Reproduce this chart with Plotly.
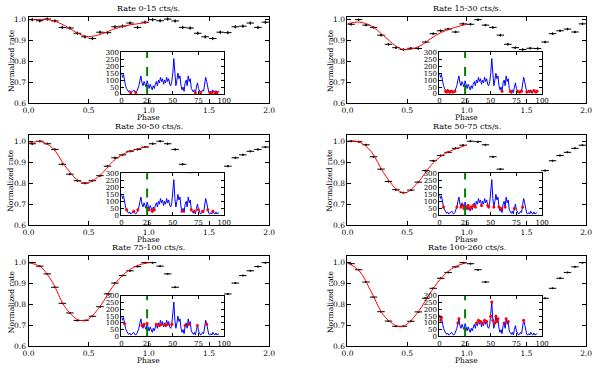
import plotly.graph_objects as go

# ---------------- data ----------------
phase_centers = [0.03125, 0.09375, 0.15625, 0.21875, 0.28125, 0.34375, 0.40625, 0.46875,
                 0.53125, 0.59375, 0.65625, 0.71875, 0.78125, 0.84375, 0.90625, 0.96875]
phase_all = phase_centers + [p + 1 for p in phase_centers]
half_bin = 0.03125

rate_labels = ["Rate 0-15 cts/s.", "Rate 15-30 cts/s.", "Rate 30-50 cts/s.",
               "Rate 50-75 cts/s.", "Rate 75-100 cts/s.", "Rate 100-260 cts/s."]
rate_ranges = [(0, 15), (15, 30), (30, 50), (50, 75), (75, 100), (100, 260)]

norm_0_15 = [1.000, 0.995, 1.003, 0.994, 0.963, 0.960, 0.935, 0.918,
             0.910, 0.940, 0.938, 0.966, 0.969, 0.984, 0.963, 0.988]
norm_15_30 = [0.978, 1.000, 0.974, 0.963, 0.926, 0.882, 0.866, 0.857,
              0.863, 0.862, 0.893, 0.933, 0.947, 0.955, 0.941, 0.980]
norm_30_50 = [0.988, 1.000, 0.988, 0.961, 0.890, 0.843, 0.812, 0.800,
              0.812, 0.836, 0.881, 0.921, 0.935, 0.952, 0.961, 0.972]
norm_50_75 = [1.000, 0.998, 0.983, 0.926, 0.867, 0.808, 0.769, 0.755,
              0.767, 0.805, 0.860, 0.907, 0.932, 0.947, 0.966, 0.981]
norm_75_100 = [1.000, 0.983, 0.946, 0.882, 0.805, 0.759, 0.723, 0.723,
               0.743, 0.789, 0.850, 0.902, 0.938, 0.961, 0.981, 1.000]
norm_100_260 = [0.995, 0.966, 0.907, 0.835, 0.765, 0.720, 0.695, 0.695,
                0.719, 0.764, 0.829, 0.877, 0.925, 0.953, 0.980, 1.000]
norm_err = [0.008, 0.006, 0.005, 0.004, 0.003, 0.003]

fit_phase = [0.0, 0.1, 0.2, 0.3, 0.4, 0.45, 0.5, 0.6, 0.7, 0.8, 0.9, 1.0]
fit_0_15 = [1.000, 1.001, 0.996, 0.972, 0.938, 0.925, 0.919, 0.930, 0.953, 0.970, 0.980, 0.987]
fit_15_30 = [0.981, 0.988, 0.970, 0.925, 0.876, 0.860, 0.856, 0.872, 0.910, 0.943, 0.963, 0.978]
fit_30_50 = [0.990, 0.998, 0.968, 0.885, 0.818, 0.803, 0.803, 0.840, 0.903, 0.942, 0.962, 0.975]
fit_50_75 = [1.000, 0.996, 0.950, 0.852, 0.777, 0.758, 0.757, 0.810, 0.885, 0.935, 0.962, 0.982]
fit_75_100 = [1.000, 0.980, 0.905, 0.790, 0.730, 0.722, 0.730, 0.795, 0.885, 0.948, 0.985, 1.000]
fit_100_260 = [1.000, 0.960, 0.860, 0.750, 0.700, 0.693, 0.705, 0.770, 0.860, 0.935, 0.980, 1.000]

lc_time = list(range(96))
lc_rate = [150, 120, 140, 95, 60, 40, 20, 15, 25, 10, 15, 20, 30, 15, 10, 20,
           40, 60, 100, 130, 80, 60, 90, 70, 50, 95, 60, 40, 70, 50, 30, 60,
           40, 70, 90, 60, 100, 80, 120, 90, 110, 70, 100, 80, 120, 90, 110, 70,
           60, 90, 150, 255, 120, 60, 100, 150, 110, 130, 60, 30, 50, 20, 80, 100,
           60, 130, 90, 110, 40, 20, 15, 30, 10, 50, 80, 40, 20, 10, 15, 30,
           20, 60, 120, 90, 40, 15, 10, 20, 10, 30, 15, 10, 25, 10, 15, 20]
lc_err = 10
selected_time = 25

norm_sets = [norm_0_15, norm_15_30, norm_30_50, norm_50_75, norm_75_100, norm_100_260]
fit_sets = [fit_0_15, fit_15_30, fit_30_50, fit_50_75, fit_75_100, fit_100_260]
y_tops = [1.013, 1.031, 1.030]

# ---------------- layout geometry (pixels) ----------------
W, H = 600, 368
main_cols = [(23, 269), (349, 593)]
main_rows = [(13.3, 101.7), (134.0, 226.7), (258.7, 350.7)]
inset_cols = [(118, 223), (443, 548)]
inset_rows = [(49.5, 92.3), (173.5, 216.7), (299.3, 340.7)]

FONT = "DejaVu Serif"
TICK_SIZE = 7.5
INSET_TICK_SIZE = 7


def xd(a, b):
    return [a / W, b / W]


def yd(top, bottom):
    return [(H - bottom) / H, (H - top) / H]


fig = go.Figure()
layout = {}
annotations = []
shapes = []

for i in range(6):
    r, c = divmod(i, 2)
    m, n = i + 1, i + 7
    mx = "x" if m == 1 else f"x{m}"
    my = "y" if m == 1 else f"y{m}"
    ix, iy = f"x{n}", f"y{n}"
    vals = norm_sets[i]

    fig.add_trace(go.Scatter(
        x=phase_all, y=vals + vals, mode="markers",
        marker=dict(color="black", size=2),
        error_x=dict(type="constant", value=half_bin, color="black", thickness=1, width=0),
        error_y=dict(type="constant", value=norm_err[i], color="black", thickness=1, width=0),
        xaxis=mx, yaxis=my, showlegend=False, hoverinfo="skip"))
    fig.add_trace(go.Scatter(
        x=fit_phase, y=fit_sets[i], mode="lines",
        line=dict(color="#ff0000", width=1, shape="spline"),
        xaxis=mx, yaxis=my, showlegend=False, hoverinfo="skip"))

    lo, hi = rate_ranges[i]
    sel_t = [t for t, v in zip(lc_time, lc_rate) if lo <= v < hi]
    sel_v = [v for v in lc_rate if lo <= v < hi]
    fig.add_trace(go.Scatter(
        x=lc_time, y=lc_rate, mode="lines", line=dict(color="#0000ff", width=1),
        xaxis=ix, yaxis=iy, showlegend=False, hoverinfo="skip"))
    fig.add_trace(go.Scatter(
        x=sel_t, y=sel_v, mode="markers", marker=dict(color="#ff0000", size=3),
        error_y=dict(type="constant", value=lc_err, color="#ff0000", thickness=1, width=0),
        xaxis=ix, yaxis=iy, showlegend=False, hoverinfo="skip"))

    shapes.append(dict(type="line", xref=ix, yref=f"{iy} domain", x0=selected_time,
                       x1=selected_time, y0=0, y1=1,
                       line=dict(color="#008000", width=2, dash="dash")))

    axis_common = dict(showgrid=False, zeroline=False, showline=True, linecolor="black",
                       linewidth=1, mirror="allticks", ticks="inside", tickcolor="black")
    main_font = dict(family=FONT, size=TICK_SIZE, color="black")
    inset_font = dict(family=FONT, size=INSET_TICK_SIZE, color="black")
    layout["xaxis" if m == 1 else f"xaxis{m}"] = dict(
        domain=xd(*main_cols[c]), range=[0, 2], tickvals=[0, 0.5, 1.0, 1.5, 2.0],
        tickformat=".1f", anchor=my, ticklen=4, tickfont=main_font, **axis_common)
    layout["yaxis" if m == 1 else f"yaxis{m}"] = dict(
        domain=yd(*main_rows[r]), range=[0.6, y_tops[r]], tickvals=[0.6, 0.7, 0.8, 0.9, 1.0],
        tickformat=".1f", anchor=mx, ticklen=4, tickfont=main_font, **axis_common)
    layout[f"xaxis{n}"] = dict(
        domain=xd(*inset_cols[c]), range=[0, 100], tickvals=[0, 25, 50, 75, 100],
        anchor=iy, ticklen=3, tickfont=inset_font, **axis_common)
    layout[f"yaxis{n}"] = dict(
        domain=yd(*inset_rows[r]), range=[0, 300], tickvals=[0, 50, 100, 150, 200, 250, 300],
        anchor=ix, ticklen=3, tickfont=inset_font, **axis_common)

    cx = (main_cols[c][0] + main_cols[c][1]) / 2 / W
    top, bottom = main_rows[r]
    annotations.append(dict(text=rate_labels[i], x=cx, y=(H - top + 2) / H, xref="paper",
                            yref="paper", xanchor="center", yanchor="bottom", showarrow=False,
                            font=dict(family=FONT, size=8, color="black")))
    annotations.append(dict(text="Phase", x=cx, y=(H - bottom - 14.5) / H, xref="paper",
                            yref="paper", xanchor="center", yanchor="middle", showarrow=False,
                            font=dict(family=FONT, size=7.5, color="black")))
    annotations.append(dict(text="Normalized rate", x=(main_cols[c][0] - 18) / W,
                            y=(H - (top + bottom) / 2) / H, xref="paper", yref="paper",
                            xanchor="center", yanchor="middle", textangle=-90, showarrow=False,
                            font=dict(family=FONT, size=7.5, color="black")))

fig.update_layout(width=W, height=H, margin=dict(l=0, r=0, t=0, b=0),
                  paper_bgcolor="white", plot_bgcolor="white",
                  annotations=annotations, shapes=shapes, **layout)
fig.write_html("out.html", config={"displayModeBar": False},
               post_script="document.body.style.margin='0';document.body.style.overflow='hidden';")
